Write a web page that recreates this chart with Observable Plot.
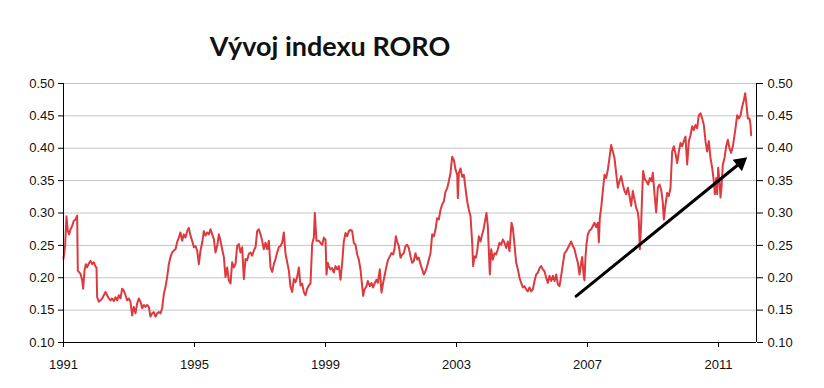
<!DOCTYPE html>
<html><head><meta charset="utf-8">
<script src="https://cdn.jsdelivr.net/npm/d3@7"></script>
<script src="https://cdn.jsdelivr.net/npm/@observablehq/plot@0.6"></script>
<style>
body{margin:0;background:#fff;}
#wrap{position:relative;width:824px;height:388px;overflow:hidden;}
#title{position:absolute;left:0;width:660px;top:32px;text-align:center;font:700 27px/27px Lato, sans-serif;color:#111;}
#chart{position:absolute;left:0;top:60px;}
</style></head><body>
<div id="wrap"><div id="title">Vývoj indexu RORO</div><div id="chart"></div></div>
<script>
// time (decimal years) and RORO index values
const years = [
1991.000,1991.050,1991.091,1991.132,1991.173,1991.213,1991.264,1991.315,1991.366,1991.417,
1991.437,1991.468,1991.519,1991.570,1991.600,1991.641,1991.682,1991.722,1991.773,1991.824,
1991.875,1991.926,1991.977,1992.008,1992.028,1992.078,1992.129,1992.180,1992.231,1992.282,
1992.333,1992.384,1992.435,1992.486,1992.536,1992.587,1992.638,1992.689,1992.740,1992.791,
1992.842,1992.893,1992.944,1992.995,1993.045,1993.096,1993.147,1993.198,1993.249,1993.300,
1993.351,1993.402,1993.453,1993.504,1993.555,1993.606,1993.656,1993.707,1993.758,1993.809,
1993.860,1993.911,1993.962,1994.013,1994.064,1994.115,1994.165,1994.216,1994.267,1994.318,
1994.369,1994.420,1994.470,1994.521,1994.572,1994.623,1994.674,1994.725,1994.776,1994.826,
1994.878,1994.929,1994.980,1995.031,1995.082,1995.132,1995.183,1995.234,1995.285,1995.336,
1995.387,1995.438,1995.489,1995.540,1995.590,1995.641,1995.692,1995.743,1995.794,1995.845,
1995.896,1995.947,1995.998,1996.048,1996.099,1996.150,1996.201,1996.252,1996.303,1996.354,
1996.405,1996.456,1996.506,1996.557,1996.608,1996.659,1996.710,1996.761,1996.812,1996.863,
1996.914,1996.964,1997.015,1997.066,1997.117,1997.168,1997.219,1997.270,1997.321,1997.372,
1997.423,1997.473,1997.524,1997.575,1997.626,1997.677,1997.728,1997.779,1997.830,1997.881,
1997.931,1997.982,1998.033,1998.084,1998.135,1998.186,1998.237,1998.287,1998.338,1998.389,
1998.440,1998.491,1998.542,1998.593,1998.644,1998.674,1998.725,1998.797,
1998.847,1998.898,1998.949,1999.000,1999.030,1999.071,1999.101,1999.152,1999.203,1999.254,
1999.305,1999.356,1999.407,1999.458,1999.509,1999.559,1999.610,1999.661,1999.712,1999.763,
1999.814,1999.865,1999.916,1999.967,2000.017,2000.068,2000.119,2000.150,2000.190,2000.251,
2000.292,2000.353,2000.404,2000.455,2000.506,2000.557,2000.598,2000.659,2000.710,2000.760,
2000.811,2000.862,2000.913,2000.964,2001.015,2001.066,2001.106,2001.147,2001.188,2001.239,
2001.290,2001.341,2001.392,2001.443,2001.493,2001.544,2001.595,2001.646,2001.697,2001.748,
2001.799,2001.850,2001.900,2001.951,2002.002,2002.053,2002.104,2002.155,2002.206,2002.257,
2002.308,2002.358,2002.409,2002.460,2002.511,2002.562,2002.613,2002.664,2002.715,2002.766,
2002.817,2002.868,2002.919,2002.970,2003.021,2003.041,2003.071,2003.122,2003.173,2003.224,
2003.275,2003.326,2003.377,2003.428,2003.479,2003.509,2003.550,2003.591,2003.631,2003.682,
2003.733,2003.784,2003.835,2003.886,2003.916,2003.957,2003.998,2004.018,2004.059,2004.110,
2004.160,2004.211,2004.262,2004.313,2004.364,2004.415,2004.466,2004.517,2004.568,2004.618,
2004.649,2004.680,2004.720,2004.771,2004.822,2004.873,2004.924,2004.975,2005.026,2005.077,
2005.127,2005.178,2005.229,2005.280,2005.331,2005.382,2005.433,2005.484,2005.535,2005.585,
2005.636,2005.687,2005.738,2005.789,2005.840,2005.891,2005.942,2005.993,2006.043,2006.094,
2006.145,2006.196,2006.247,2006.298,2006.349,2006.400,2006.451,2006.501,2006.552,2006.603,
2006.654,2006.705,2006.756,
2006.786,2006.837,2006.888,2006.908,2006.939,2006.969,2007.010,2007.061,2007.112,2007.163,
2007.213,2007.264,2007.315,2007.346,2007.376,2007.417,2007.468,2007.519,2007.570,2007.621,
2007.671,2007.722,2007.773,2007.824,2007.875,2007.926,2007.977,2008.028,2008.079,2008.130,
2008.180,2008.231,2008.282,2008.333,2008.384,2008.435,2008.486,2008.537,2008.567,2008.598,
2008.638,2008.669,2008.699,2008.750,2008.801,2008.852,2008.903,2008.954,2008.995,2009.046,
2009.096,2009.147,2009.198,2009.249,2009.300,2009.331,2009.382,2009.432,2009.483,2009.534,
2009.585,2009.636,2009.687,2009.738,2009.789,2009.839,2009.890,2009.941,2009.992,2010.043,
2010.094,2010.145,2010.196,2010.247,2010.297,2010.348,2010.399,2010.450,2010.501,2010.552,
2010.603,2010.654,2010.705,2010.755,2010.806,2010.857,2010.888,2010.929,2010.959,2010.990,
2011.030,2011.061,2011.091,2011.132,2011.183,2011.234,2011.285,2011.336,2011.387,2011.437,
2011.468,2011.519,2011.570,2011.621,2011.672,2011.722,2011.773,2011.814,2011.855,2011.895,
2011.946,2011.977,2011.997
];
const roro = [
0.229,0.250,0.295,0.272,0.267,0.275,0.280,0.288,0.290,0.296,
0.211,0.209,0.206,0.196,0.183,0.211,0.221,0.216,0.222,0.226,
0.221,0.224,0.217,0.216,0.170,0.163,0.165,0.168,0.173,0.178,
0.173,0.168,0.165,0.168,0.164,0.170,0.165,0.173,0.168,0.183,
0.180,0.173,0.165,0.168,0.163,0.142,0.155,0.145,0.160,0.168,
0.163,0.153,0.158,0.155,0.158,0.155,0.140,0.145,0.147,0.140,
0.145,0.147,0.145,0.153,0.175,0.186,0.201,0.221,0.232,0.239,
0.242,0.244,0.255,0.262,0.270,0.257,0.267,0.262,0.272,0.277,
0.265,0.257,0.247,0.249,0.242,0.221,0.242,0.254,0.272,0.265,
0.270,0.267,0.275,0.267,0.260,0.239,0.249,0.267,0.257,0.244,
0.232,0.201,0.216,0.196,0.191,0.224,0.216,0.221,0.249,0.252,
0.239,0.247,0.198,0.229,0.227,0.237,0.239,0.234,0.242,0.247,
0.272,0.275,0.267,0.257,0.244,0.254,0.244,0.257,0.216,0.209,
0.221,0.229,0.239,0.247,0.249,0.254,0.270,0.237,0.224,0.211,
0.186,0.178,0.198,0.193,0.201,0.216,0.188,0.191,0.178,0.173,
0.183,0.188,0.191,0.252,0.262,0.300,0.257,0.257,
0.254,0.251,0.262,0.259,0.205,0.223,0.218,0.213,0.215,0.208,
0.218,0.213,0.218,0.197,0.223,0.256,0.269,0.264,0.272,0.274,
0.272,0.254,0.251,0.236,0.228,0.213,0.187,0.172,0.182,0.187,
0.195,0.187,0.192,0.185,0.192,0.197,0.192,0.213,0.177,0.192,
0.205,0.218,0.228,0.233,0.238,0.236,0.244,0.264,0.256,0.249,
0.231,0.236,0.238,0.249,0.251,0.246,0.233,0.223,0.226,0.238,
0.228,0.231,0.221,0.213,0.205,0.210,0.218,0.228,0.238,0.267,
0.264,0.274,0.292,0.290,0.305,0.313,0.318,0.333,0.338,0.349,
0.362,0.387,0.382,0.367,0.359,0.323,0.362,0.369,0.356,0.359,
0.338,0.318,0.305,0.295,0.254,0.218,0.233,0.231,0.241,0.264,
0.256,0.267,0.277,0.292,0.300,0.279,0.228,0.205,0.244,0.228,
0.238,0.236,0.244,0.254,0.251,0.259,0.254,0.246,0.256,0.241,
0.264,0.285,0.277,0.251,0.223,0.213,0.200,0.192,0.185,0.187,
0.182,0.179,0.185,0.179,0.182,0.195,0.205,0.208,0.215,0.218,
0.213,0.210,0.200,0.192,0.203,0.195,0.203,0.195,0.205,0.190,
0.187,0.203,0.221,0.238,0.241,0.246,0.251,0.256,0.249,0.244,
0.233,0.223,0.205,
0.216,0.232,0.201,0.196,0.232,0.252,0.267,0.273,0.275,0.280,
0.285,0.278,0.285,0.255,0.293,0.308,0.334,0.359,0.354,0.367,
0.385,0.405,0.395,0.385,0.362,0.339,0.349,0.357,0.344,0.334,
0.329,0.339,0.326,0.311,0.334,0.321,0.308,0.301,0.288,0.244,
0.283,0.329,0.365,0.352,0.349,0.344,0.354,0.349,0.362,0.329,
0.301,0.339,0.344,0.336,0.316,0.290,0.313,0.331,0.326,0.339,
0.395,0.403,0.392,0.377,0.395,0.408,0.403,0.411,0.418,0.375,
0.411,0.420,0.434,0.428,0.436,0.431,0.451,0.454,0.446,0.436,
0.411,0.395,0.411,0.385,0.370,0.349,0.329,0.354,0.329,0.370,
0.349,0.324,0.339,0.375,0.385,0.403,0.413,0.400,0.393,0.403,
0.413,0.431,0.451,0.446,0.451,0.464,0.474,0.485,0.467,0.446,
0.446,0.436,0.420
];
const xTicks = [1991, 1995, 1999, 2003, 2007, 2011];
const yTicks = [0.10, 0.15, 0.20, 0.25, 0.30, 0.35, 0.40, 0.45, 0.50];
const xDomain = [1991, 2012.16];
const arrowStart = [2006.655, 0.1715];
const arrowEnd = [2011.876, 0.386];

const data = years.map((t, i) => ({t, v: roro[i]}));
const fmt = d3.format(".2f");
const chart = Plot.plot({
  width: 824, height: 328,
  marginTop: 23, marginBottom: 46, marginLeft: 63, marginRight: 68,
  style: {fontFamily: "Arial, 'Liberation Sans', sans-serif", fontSize: "13px", color: "#111", background: "#fff", overflow: "visible"},
  x: {domain: xDomain, label: null},
  y: {domain: [yTicks[0], yTicks[yTicks.length - 1]], label: null},
  marks: [
    Plot.ruleY(yTicks.slice(1), {stroke: "#c4c4c4", strokeWidth: 1}),
    Plot.line(data, {x: "t", y: "v", stroke: "#dc3a3f", strokeWidth: 2}),
    Plot.ruleX(xDomain, {stroke: "#000", strokeWidth: 1}),
    Plot.ruleY([yTicks[0]], {stroke: "#000", strokeWidth: 1}),
    Plot.axisY(yTicks, {anchor: "left", tickFormat: fmt, tickSize: 5, tickPadding: 4, fontSize: 13, label: null, stroke: "#000"}),
    Plot.axisY(yTicks, {anchor: "right", tickFormat: fmt, tickSize: 6, tickPadding: 5, fontSize: 13, label: null, stroke: "#000"}),
    Plot.axisX(xTicks, {anchor: "bottom", tickFormat: d => String(d), tickSize: 5, tickPadding: 12, fontSize: 13, letterSpacing: "-0.6px", label: null, stroke: "#000"}),
    Plot.arrow([{a: arrowStart, b: arrowEnd}], {
      x1: d => d.a[0], y1: d => d.a[1], x2: d => d.b[0], y2: d => d.b[1],
      stroke: "#000", strokeWidth: 3, headLength: 0, insetEnd: 7
    }),
    Plot.dot([arrowEnd], {x: d => d[0], y: d => d[1], symbol: "triangle", r: 5.5, fill: "#000", stroke: "none", rotate: 51, dx: -6.6, dy: 5.4})
  ]
});
document.getElementById("chart").appendChild(chart);
</script>
</body></html>
